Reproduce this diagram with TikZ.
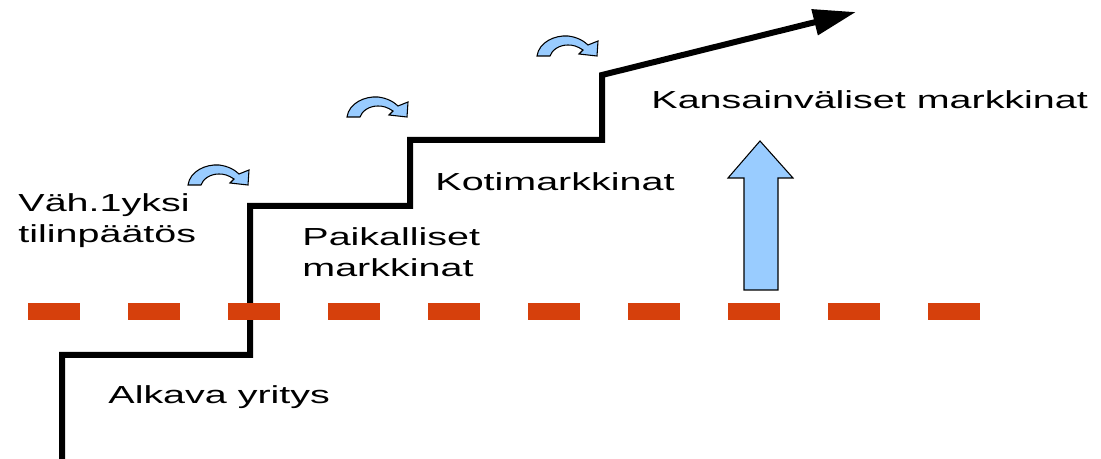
\documentclass[tikz,border=0pt]{standalone}
\usepackage{fontspec}
\setmainfont{Liberation Sans}
\usepackage{tikz}
\usetikzlibrary{arrows.meta}
\definecolor{limitred}{RGB}{214,64,12}
\definecolor{growblue}{RGB}{153,204,255}
\tikzstyle{stairline}=[line width=4.5pt,line join=miter]
\tikzstyle{marklabel}=[anchor=base west,inner sep=0pt,align=left,xscale=1.6,font=\fontsize{18.5}{23.25}\selectfont]
\tikzstyle{limitline}=[draw=limitred,line width=12.75pt,dash pattern=on 39pt off 36pt]
\tikzstyle{growarrow}=[fill=growblue,draw=black,line width=0.8pt]
\tikzset{bendarrow/.pic={
    \draw[growarrow] (0,0) .. controls (2,-14) and (18,-21) .. (31,-20)
      .. controls (40,-19) and (47,-15) .. (51,-11) -- (61,-15) -- (60,0)
      -- (42,-2) -- (46,-6) .. controls (40,-10) and (36,-11) .. (31,-11)
      .. controls (22,-11) and (15,-6) .. (13,0) -- cycle;
  }}

\begin{document}
\begin{tikzpicture}[x=0.75pt,y=-0.75pt]
      \useasboundingbox (0,0) rectangle (1101,459);

      % stairs
      \coordinate (s0) at (62,462);
      \coordinate (s1) at (62,355);
      \coordinate (s2) at (250,355);
      \coordinate (s3) at (250,206);
      \coordinate (s4) at (410,206);
      \coordinate (s5) at (410,140);
      \coordinate (s6) at (602,140);
      \coordinate (s7) at (602,75);
      \coordinate (tip) at (856,12);
      \draw[stairline,-{Triangle[length=32pt,width=19pt]}] (s0) -- (s1) -- (s2) -- (s3) -- (s4) -- (s5) -- (s6) -- (s7) -- (tip);

      % limit
      \coordinate (l0) at (28,312);
      \coordinate (l1) at (981,312);
      \draw[limitline] (l0) -- (l1);

      % turns
      \pic at (188,185) {bendarrow};
      \pic at (347,117) {bendarrow};
      \pic at (537,56) {bendarrow};

      % growth
      \draw[growarrow] (744,290) -- (744,178) -- (728,178) -- (760,141) -- (793,178) -- (778,178) -- (778,290) -- cycle;

      \node[marklabel] (start) at (108,404) {Alkava yritys};
      \node[marklabel] (report) at (18,243) {Väh.1yksi\\tilinpäätös};
      \node[marklabel] (local) at (302,277) {Paikalliset\\markkinat};
      \node[marklabel] (home) at (435,191) {Kotimarkkinat};
      \node[marklabel] (world) at (651,109) {Kansainväliset markkinat};
    \end{tikzpicture}
\end{document}
